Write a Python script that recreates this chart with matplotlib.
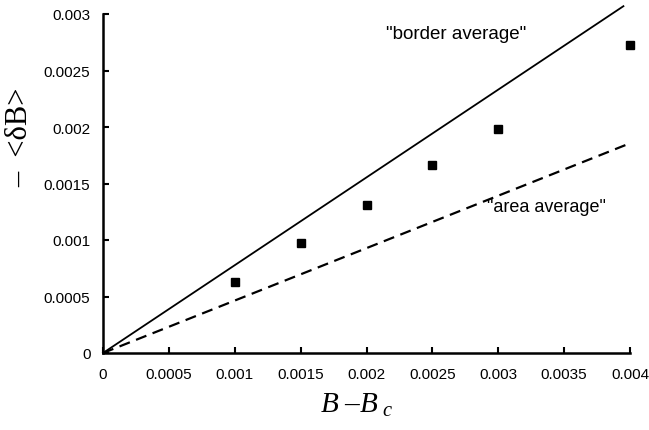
import matplotlib
matplotlib.use("Agg")
import matplotlib.pyplot as plt
import numpy as np

# data
x_points = [0.001, 0.0015, 0.002, 0.0025, 0.003, 0.004]
y_points = [0.00063, 0.000976, 0.00131, 0.00166, 0.00198, 0.00273]
border_x = [0.0, 0.00395]
border_slope = 0.777
area_x = [0.0, 0.004]
area_slope = 0.464
x_ticks = [0, 0.0005, 0.001, 0.0015, 0.002, 0.0025, 0.003, 0.0035, 0.004]
x_ticklabels = ["0", "0.0005", "0.001", "0.0015", "0.002", "0.0025", "0.003", "0.0035", "0.004"]
y_ticks = [0, 0.0005, 0.001, 0.0015, 0.002, 0.0025, 0.003]
y_ticklabels = ["0", "0.0005", "0.001", "0.0015", "0.002", "0.0025", "0.003"]

plt.rcParams['font.family'] = ['Liberation Sans', 'DejaVu Sans']
plt.rcParams['mathtext.fontset'] = 'custom'
plt.rcParams['mathtext.rm'] = 'Liberation Serif'
plt.rcParams['mathtext.it'] = 'Liberation Serif:italic'

fig = plt.figure(figsize=(6.49, 4.31), dpi=100)
ax = fig.add_axes([103/649, 1-354/431, (630-103)/649, (354-15)/431])

bx = np.array(border_x)
ax.plot(bx, border_slope*bx, color='black', lw=1.3, clip_on=False)
axx = np.array(area_x)
ax.plot(axx, area_slope*axx, color='black', lw=1.6, ls=(0, (5, 3)), clip_on=False)
ax.plot(x_points, y_points, ls='none', marker='s', ms=6, color='black', clip_on=False, zorder=5)

ax.set_xlim(0, 0.004)
ax.set_ylim(0, 0.003)
ax.set_xticks(x_ticks)
ax.set_xticklabels(x_ticklabels)
ax.set_yticks(y_ticks)
ax.set_yticklabels(y_ticklabels)
ax.spines['top'].set_visible(False)
ax.spines['right'].set_visible(False)
ax.spines['left'].set_linewidth(1.8)
ax.spines['bottom'].set_linewidth(1.8)
ax.tick_params(direction='in', length=4.5, width=1.5, labelsize=11)
ax.tick_params(axis='x', pad=10)
ax.tick_params(axis='y', pad=9)

ax.text(0.00268, 0.00283, '"border average"', fontsize=13.5, ha='center', va='center')
ax.text(0.003368, 0.0012955, '"area average"', fontsize=13, ha='center', va='center')

fig.text(356/649, 1-405/431, r'$B\ $–$B_{\ c}$', fontsize=21, ha='center', va='center',
         family='Liberation Serif')
fig.text(20/649, 1-137/431, '–  <δB>', fontsize=22, ha='center', va='center', rotation=90,
         family=['Liberation Serif', 'DejaVu Serif'])

fig.savefig('out.png', dpi=100)
